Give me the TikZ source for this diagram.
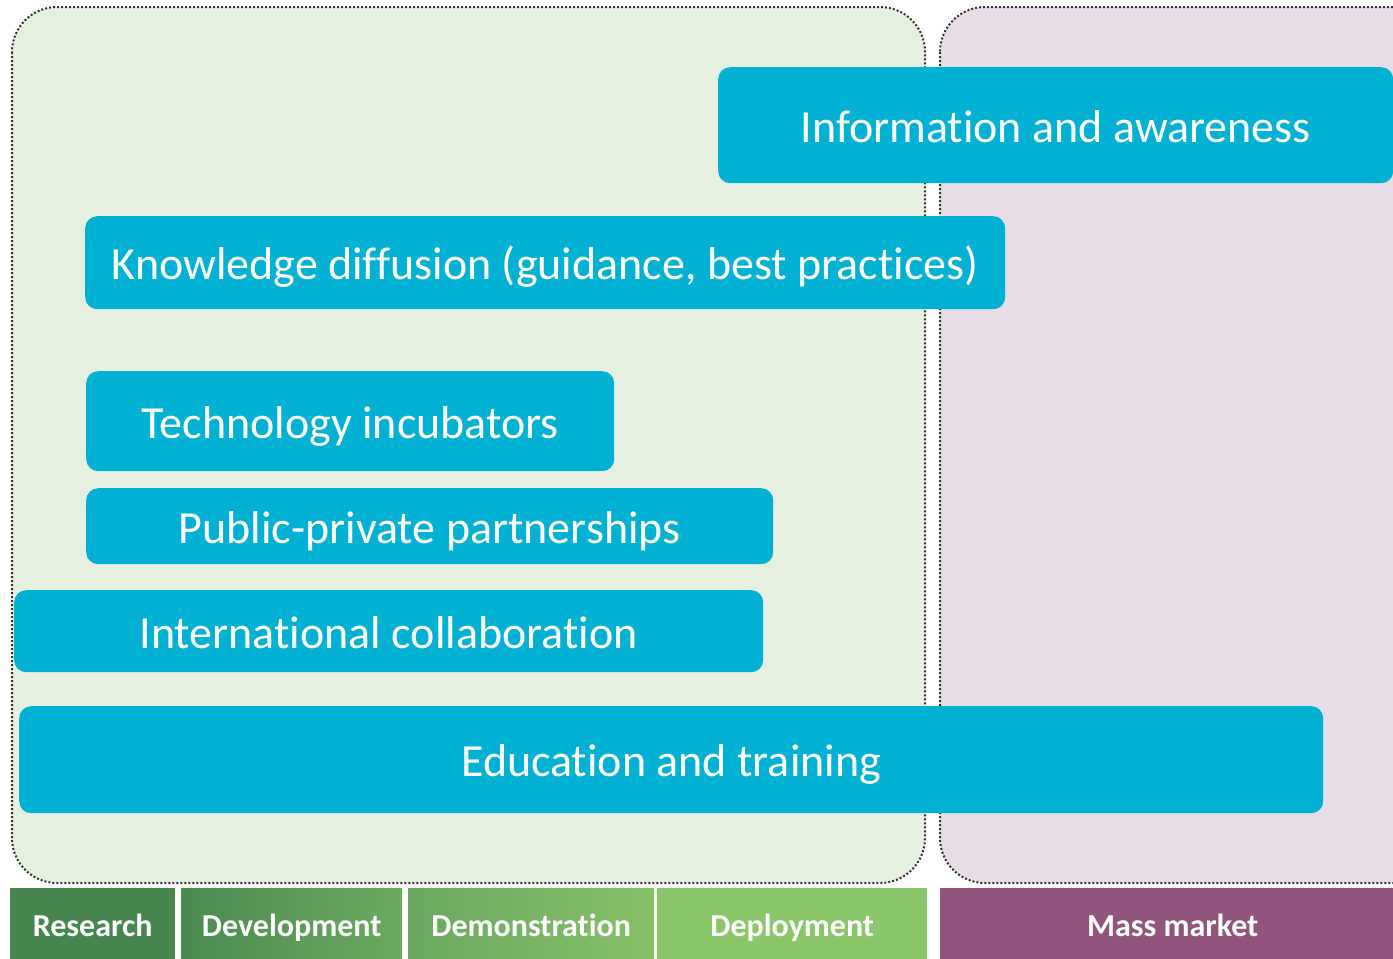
\documentclass[tikz,border=0pt]{standalone}
\usepackage{fontspec}
\setmainfont{Carlito}[Ligatures=NoCommon]
\newcommand{\nlg}{\kern0pt{}}
\definecolor{panelgreen}{RGB}{230,240,224}
\definecolor{panelpurple}{RGB}{231,221,230}
\definecolor{boxblue}{RGB}{0,177,212}
\definecolor{dotgray}{RGB}{50,50,50}
\definecolor{resgreen}{RGB}{72,134,80}
\definecolor{devgreenA}{RGB}{74,138,80}
\definecolor{devgreenB}{RGB}{108,170,96}
\definecolor{demgreenA}{RGB}{106,168,96}
\definecolor{demgreenB}{RGB}{134,192,104}
\definecolor{depgreen}{RGB}{138,198,106}
\definecolor{massmauve}{RGB}{145,85,125}
\begin{document}
\begin{tikzpicture}[x=1pt,y=-1pt,
  panel/.style={draw=dotgray, dotted, line width=2pt, rounded corners=45pt},
  bluebox/.style={fill=boxblue, draw=none, rounded corners=12pt, anchor=north west,
    inner sep=0pt, text=white, font=\fontsize{46}{55}\selectfont,
    text height=43pt, text depth=9pt},
  stagebox/.style={draw=none, anchor=north west, inner sep=0pt, text=white,
    font=\bfseries\fontsize{32}{38}\selectfont, minimum height=71pt,
    text height=32pt, text depth=6pt}]
\useasboundingbox (0,0) rectangle (1393,959);
% panels
\draw[panel, fill=panelgreen] (12,7) rectangle (925,883);
\node[inner sep=0pt] (greenpanel) at (468,445) {};
\draw[panel, fill=panelpurple] (940,7) rectangle (1440,883);
\node[inner sep=0pt] (purplepanel) at (1165,445) {};
% blue boxes
\node[bluebox, minimum width=675pt, minimum height=116pt] (info) at (718,67) {Informat\nlg ion and awareness};
\node[bluebox, minimum width=920pt, minimum height=93pt] (know) at (85,216) {Knowledge diffusion (guidance, best practices)};
\node[bluebox, minimum width=528pt, minimum height=100pt] (incub) at (86,371) {Technology incubators};
\node[bluebox, minimum width=687pt, minimum height=76pt] (ppp) at (86,488) {Public-private partnerships};
\node[bluebox, minimum width=749pt, minimum height=82pt] (intl) at (14,590) {Internat\nlg ional collaborat\nlg ion};
\node[bluebox, minimum width=1304pt, minimum height=107pt] (edu) at (19,706) {Educat\nlg ion and training};
% stage bar
\node[stagebox, fill=resgreen, minimum width=165pt] (research) at (10,888) {Research};
\node[stagebox, left color=devgreenA, right color=devgreenB, minimum width=221pt] (develop) at (181,888) {Development};
\node[stagebox, left color=demgreenA, right color=demgreenB, minimum width=246pt] (demo) at (408,888) {Demonstrat\nlg ion};
\node[stagebox, fill=depgreen, minimum width=270pt] (deploy) at (657,888) {Deployment};
\node[stagebox, fill=massmauve, minimum width=465pt] (mass) at (940,888) {Mass market};
\end{tikzpicture}
\end{document}
